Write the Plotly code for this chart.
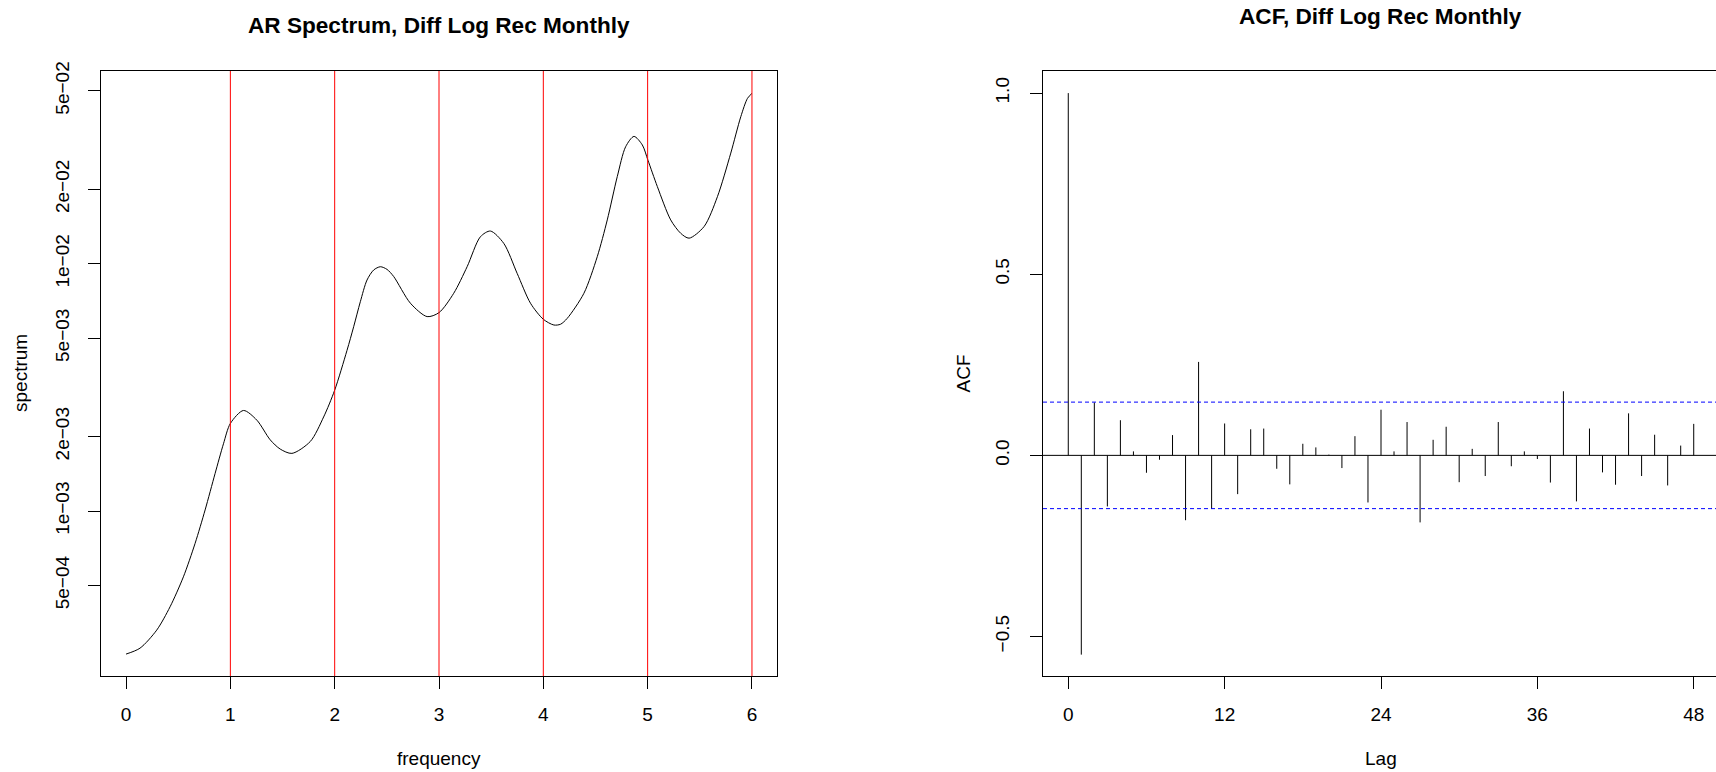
import plotly.graph_objects as go

W, H = 1716, 772

# ---- Left panel data: AR spectrum ----
freq = [0, 0.134, 0.294, 0.422, 0.55, 0.662, 0.758, 0.854, 0.934, 1.0,
        1.126, 1.254, 1.382, 1.478, 1.59, 1.766, 1.894, 2.0, 2.118, 2.182, 2.246,
        2.31, 2.374, 2.438, 2.502, 2.566, 2.726, 2.886, 3.0, 3.141, 3.27, 3.397, 3.493,
        3.621, 3.749, 3.877, 4.0, 4.101, 4.165, 4.229, 4.389, 4.517, 4.613,
        4.709, 4.789, 4.869, 4.949, 5.003, 5.093, 5.221, 5.317, 5.397, 5.541, 5.669,
        5.797, 5.893, 5.957, 6.0]
spectrum = [2.64e-4, 2.79e-4, 3.30e-4, 4.10e-4, 5.42e-4, 7.40e-4, 1.01e-3, 1.42e-3, 1.87e-3, 2.26e-3,
            2.55e-3, 2.33e-3, 1.94e-3, 1.78e-3, 1.71e-3, 1.91e-3, 2.40e-3, 3.08e-3, 4.46e-3, 5.56e-3, 7.02e-3,
            8.59e-3, 9.43e-3, 9.72e-3, 9.48e-3, 8.87e-3, 6.92e-3, 6.11e-3, 6.34e-3, 7.59e-3, 9.73e-3, 1.285e-2, 1.355e-2,
            1.208e-2, 9.14e-3, 6.92e-3, 5.96e-3, 5.65e-3, 5.69e-3, 6.01e-3, 7.59e-3, 1.067e-2, 1.503e-2,
            2.25e-2, 2.97e-2, 3.27e-2, 3.02e-2, 2.62e-2, 2.05e-2, 1.503e-2, 1.327e-2, 1.268e-2, 1.413e-2, 1.866e-2,
            2.80e-2, 3.93e-2, 4.66e-2, 4.88e-2]
vlines = [1, 2, 3, 4, 5, 6]
spec_tickvals = [5e-4, 1e-3, 2e-3, 5e-3, 1e-2, 2e-2, 5e-2]
spec_ticktext = ["5e\u221204", "1e\u221203", "2e\u221203", "5e\u221203", "1e\u221202", "2e\u221202", "5e\u221202"]
freq_ticks = [0, 1, 2, 3, 4, 5, 6]

# ---- Right panel data: ACF ----
lags = list(range(49))
acf = [1.0, -0.55, 0.146, -0.141, 0.097, 0.011, -0.048, -0.012, 0.056, -0.179,
       0.258, -0.148, 0.088, -0.107, 0.072, 0.074, -0.037, -0.080, 0.032, 0.022,
       0.002, -0.035, 0.053, -0.130, 0.126, 0.011, 0.092, -0.185, 0.043, 0.079,
       -0.074, 0.018, -0.057, 0.092, -0.030, 0.011, -0.010, -0.075, 0.177, -0.127,
       0.074, -0.047, -0.081, 0.116, -0.057, 0.057, -0.083, 0.027, 0.087]
ci = 0.147
lag_ticks = [0, 12, 24, 36, 48]
acf_tickvals = [-0.5, 0.0, 0.5, 1.0]
acf_ticktext = ["\u22120.5", "0.0", "0.5", "1.0"]

FONT = "Liberation Sans, Arial, Helvetica, sans-serif"
FS = 19

fig = go.Figure()

fig.add_trace(go.Scatter(x=freq, y=spectrum, mode="lines",
                         line=dict(color="black", width=1, shape="spline", smoothing=0.8),
                         xaxis="x", yaxis="y", showlegend=False, hoverinfo="skip"))

seg_x, seg_y = [], []
for l, v in zip(lags, acf):
    seg_x += [l, l, None]
    seg_y += [0, v, None]
fig.add_trace(go.Scatter(x=seg_x, y=seg_y, mode="lines",
                         line=dict(color="black", width=1),
                         xaxis="x2", yaxis="y2", showlegend=False, hoverinfo="skip"))

shapes = []
for v in vlines:
    shapes.append(dict(type="line", xref="x", yref="y domain", x0=v, x1=v, y0=0, y1=1,
                       line=dict(color="#FF0000", width=1)))
shapes.append(dict(type="line", xref="x2 domain", yref="y2", x0=0, x1=1, y0=0, y1=0,
                   line=dict(color="black", width=1)))
for c in (ci, -ci):
    shapes.append(dict(type="line", xref="x2 domain", yref="y2", x0=0, x1=1, y0=c, y1=c,
                       line=dict(color="#0000FF", width=1, dash="4px,3px")))

axis_common = dict(showgrid=False, zeroline=False, showline=True, linecolor="black", linewidth=1,
                   ticks="outside", ticklen=12, tickcolor="black", tickwidth=1, automargin=False,
                   tickfont=dict(family=FONT, size=FS, color="black"))

fig.update_layout(
    width=W, height=H, margin=dict(l=0, r=0, t=0, b=0, pad=0, autoexpand=False),
    paper_bgcolor="white", plot_bgcolor="white",
    shapes=shapes,
    xaxis=dict(domain=[101 / W, 777 / W], range=[-0.24, 6.24], tickvals=freq_ticks,
               anchor="y", mirror=True, ticklabelstandoff=9, **axis_common),
    yaxis=dict(domain=[1 - 676 / H, 1 - 71 / H], type="log", range=[-3.667, -1.221],
               tickvals=spec_tickvals, ticktext=spec_ticktext, tickangle=-90,
               anchor="x", mirror=True, ticklabelstandoff=11, **axis_common),
    xaxis2=dict(domain=[1043 / W, 1.0], range=[-1.94, 49.71], tickvals=lag_ticks,
                anchor="y2", mirror=True, ticklabelstandoff=9, **axis_common),
    yaxis2=dict(domain=[1 - 676 / H, 1 - 71 / H], range=[-0.609, 1.061],
                tickvals=acf_tickvals, ticktext=acf_ticktext, tickangle=-90,
                anchor="x2", mirror=False, ticklabelstandoff=13, **axis_common),
)

ann = [
    dict(text="<b>AR Spectrum, Diff Log Rec Monthly</b>", x=439.5 / W, y=1 - 25 / H, size=22.6),
    dict(text="<b>ACF, Diff Log Rec Monthly</b>", x=1380.6 / W, y=1 - 17 / H, size=22.6),
    dict(text="frequency", x=439 / W, y=1 - 758 / H, size=FS),
    dict(text="Lag", x=1381 / W, y=1 - 758 / H, size=FS),
    dict(text="spectrum", x=20.5 / W, y=1 - 373.5 / H, size=FS, angle=-90),
    dict(text="ACF", x=963 / W, y=1 - 373.5 / H, size=FS, angle=-90),
]
for a in ann:
    fig.add_annotation(text=a["text"], x=a["x"], y=a["y"], xref="paper", yref="paper",
                       xanchor="center", yanchor="middle", showarrow=False,
                       textangle=a.get("angle", 0),
                       font=dict(family=FONT, size=a["size"], color="black"))

fig.write_html("out.html", config={"displayModeBar": False})

# remove the browser's default page margin so the figure sits at the window's top-left corner
with open("out.html", "r", encoding="utf-8") as fh:
    html = fh.read()
html = html.replace("<head>", "<head><style>html,body{margin:0;padding:0;overflow:hidden;}</style>", 1)
with open("out.html", "w", encoding="utf-8") as fh:
    fh.write(html)
